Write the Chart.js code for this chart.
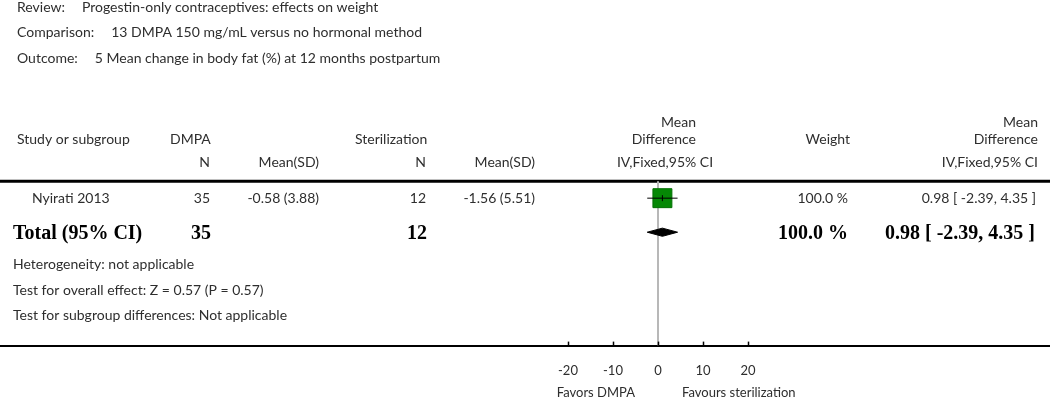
<!DOCTYPE html>
<html>
<head>
<meta charset="utf-8">
<script src="https://cdn.jsdelivr.net/npm/chart.js@4.4.1/dist/chart.umd.min.js"></script>
<style>
  html, body { margin: 0; padding: 0; background: #fff; }
  #wrap { width: 1050px; height: 400px; }
</style>
</head>
<body>
<div id="wrap"><canvas id="forest" width="1050" height="400"></canvas></div>
<script>
// --- data ---
const headerLabels = ["Review:", "Comparison:", "Outcome:"];
const headerValues = [
  "Progestin-only contraceptives: effects on weight",
  "13 DMPA 150 mg/mL versus no hormonal method",
  "5 Mean change in body fat (%) at 12 months postpartum"
];

const studyNames  = ["Nyirati 2013"];
const dmpaN       = [35];
const dmpaMeanSD  = ["-0.58 (3.88)"];
const sterN       = [12];
const sterMeanSD  = ["-1.56 (5.51)"];
const meanDiff    = [0.98];
const ciLow       = [-2.39];
const ciHigh      = [4.35];
const weights     = [100.0];

const totalLabel  = "Total (95% CI)";
const totalDmpaN  = 35;
const totalSterN  = 12;
const totalMD     = 0.98;
const totalLow    = -2.39;
const totalHigh   = 4.35;
const totalWeight = 100.0;

const footnotes = [
  "Heterogeneity: not applicable",
  "Test for overall effect: Z = 0.57 (P = 0.57)",
  "Test for subgroup differences: Not applicable"
];

const xTicks = [-20, -10, 0, 10, 20];
const favourLabels = ["Favors DMPA", "Favours sterilization"];

// --- layout ---
const SANS = "Lato, 'Open Sans', sans-serif";
const SERIF = "'Liberation Serif', 'DejaVu Serif', serif";
const TXT = "#2e2e2e";
const X_MIN = -146.2, X_MAX = 87.1;     // zero sits under the plot column
const Y_MIN = -5.82, Y_MAX = 4.33;      // row 0 = study, row 1 = total
const fmt = (v) => v.toFixed(2);
const ciText = (m, lo, hi) => `${fmt(m)} [ ${fmt(lo)}, ${fmt(hi)} ]`;

function text(ctx, s, x, y, align, font, color){
  ctx.font = font;
  ctx.fillStyle = color || TXT;
  ctx.textAlign = align;
  ctx.textBaseline = "middle";
  ctx.fillText(s, x, y);
}

const tablePlugin = {
  id: "forestTable",
  beforeDatasetsDraw(chart){
    const ctx = chart.ctx;
    const y = chart.scales.y;
    ctx.save();
    // rule under the column headers
    ctx.strokeStyle = "#000";
    ctx.lineWidth = 3;
    ctx.beginPath();
    ctx.moveTo(0, y.getPixelForValue(-0.5));
    ctx.lineTo(chart.width, y.getPixelForValue(-0.5));
    ctx.stroke();
    ctx.restore();
  },
  afterDraw(chart){
    const ctx = chart.ctx;
    const xs = chart.scales.x, ys = chart.scales.y;
    const f = `14px ${SANS}`;
    const fb = `bold 20px ${SERIF}`;
    ctx.save();

    // review / comparison / outcome
    const hy = [7, 32.5, 58];
    headerLabels.forEach((lab, i) => {
      text(ctx, lab, 17, hy[i], "left", f);
      const w = ctx.measureText(lab).width;
      text(ctx, headerValues[i], 17 + w + 17, hy[i], "left", f);
    });

    // column headers
    text(ctx, "Study or subgroup", 17, 139, "left", f);
    text(ctx, "DMPA", 170, 139, "left", f);
    text(ctx, "N", 210, 162, "right", f);
    text(ctx, "Mean(SD)", 319, 162, "right", f);
    text(ctx, "Sterilization", 355, 139, "left", f);
    text(ctx, "N", 426, 162, "right", f);
    text(ctx, "Mean(SD)", 535, 162, "right", f);
    text(ctx, "Mean", 696, 122, "right", f);
    text(ctx, "Difference", 696, 139, "right", f);
    text(ctx, "IV,Fixed,95% CI", 665, 162, "center", f);
    text(ctx, "Weight", 850, 139, "right", f);
    text(ctx, "Mean", 1038, 122, "right", f);
    text(ctx, "Difference", 1038, 139, "right", f);
    text(ctx, "IV,Fixed,95% CI", 1038, 162, "right", f);

    // study rows
    studyNames.forEach((name, i) => {
      const py = ys.getPixelForValue(i);
      text(ctx, name, 32, py, "left", f);
      text(ctx, String(dmpaN[i]), 210, py, "right", f);
      text(ctx, dmpaMeanSD[i], 319, py, "right", f);
      text(ctx, String(sterN[i]), 426, py, "right", f);
      text(ctx, sterMeanSD[i], 535, py, "right", f);
      text(ctx, weights[i].toFixed(1) + " %", 848, py, "right", f);
      text(ctx, ciText(meanDiff[i], ciLow[i], ciHigh[i]), 1036, py, "right", f);
    });

    // total row
    const ty = ys.getPixelForValue(studyNames.length) + 2;
    text(ctx, totalLabel, 13, ty, "left", fb, "#000");
    text(ctx, String(totalDmpaN), 211, ty, "right", fb, "#000");
    text(ctx, String(totalSterN), 427, ty, "right", fb, "#000");
    text(ctx, totalWeight.toFixed(1) + " %", 848, ty, "right", fb, "#000");
    text(ctx, ciText(totalMD, totalLow, totalHigh), 1035, ty, "right", fb, "#000");

    // footnotes
    const fy = [264, 290, 315];
    footnotes.forEach((s, i) => text(ctx, s, 13, fy[i], "left", f));

    // tick marks pointing up from the axis line
    const axisY = xs.top;
    ctx.strokeStyle = "#000";
    ctx.lineWidth = 1.5;
    xs.ticks.forEach(t => {
      const px = Math.round(xs.getPixelForValue(t.value)) + 0.5;
      ctx.beginPath();
      ctx.moveTo(px, axisY - 4);
      ctx.lineTo(px, axisY);
      ctx.stroke();
    });

    // favours labels
    const zx = xs.getPixelForValue(0);
    text(ctx, favourLabels[0], zx - 23, 393, "right", `13px ${SANS}`);
    text(ctx, favourLabels[1], zx + 24, 393, "left", `13px ${SANS}`);

    ctx.restore();
  }
};

const studyPoints = meanDiff.map((m, i) => ({ x: m, y: i }));
const ciSets = studyNames.map((_, i) => ({
  type: "line",
  data: [{ x: ciLow[i], y: i }, { x: ciHigh[i], y: i }],
  borderColor: "#000",
  borderWidth: 1,
  pointRadius: 0,
  order: 2
}));
const tRow = studyNames.length;
const dh = 0.12;

new Chart(document.getElementById("forest"), {
  type: "scatter",
  data: {
    datasets: [
      {
        type: "line",
        data: [{ x: 0, y: -0.5 }, { x: 0, y: Y_MAX }],
        borderColor: "#b8b8b8",
        borderWidth: 2,
        pointRadius: 0,
        order: 6
      },
      {
        data: studyPoints,
        pointStyle: "rect",
        pointRadius: 13.4,
        backgroundColor: "#058805",
        borderColor: "#037003",
        borderWidth: 1,
        order: 4
      },
      ...ciSets,
      {
        data: studyPoints,
        pointStyle: "line",
        rotation: 90,
        pointRadius: 3,
        borderColor: "#000",
        borderWidth: 1,
        order: 1
      },
      {
        type: "line",
        data: [
          { x: totalLow, y: tRow },
          { x: totalMD, y: tRow - dh },
          { x: totalHigh, y: tRow },
          { x: totalMD, y: tRow + dh },
          { x: totalLow, y: tRow }
        ],
        borderColor: "#000",
        backgroundColor: "#000",
        borderWidth: 1,
        pointRadius: 0,
        fill: "shape",
        tension: 0,
        order: 1
      }
    ]
  },
  options: {
    responsive: false,
    animation: false,
    devicePixelRatio: 1,
    layout: { autoPadding: false, padding: { left: 0, right: 0, top: 0, bottom: 4.8 } },
    plugins: { legend: { display: false }, tooltip: { enabled: false } },
    events: [],
    scales: {
      x: {
        type: "linear",
        min: X_MIN,
        max: X_MAX,
        afterBuildTicks: (s) => { s.ticks = xTicks.map(v => ({ value: v })); },
        ticks: {
          padding: 17,
          color: TXT,
          font: { family: SANS, size: 13 },
          callback: (v) => String(v)
        },
        grid: { display: false, drawTicks: false },
        border: { display: true, color: "#000", width: 2 }
      },
      y: {
        type: "linear",
        display: false,
        min: Y_MIN,
        max: Y_MAX,
        reverse: true
      }
    }
  },
  plugins: [tablePlugin]
});
</script>
</body>
</html>
